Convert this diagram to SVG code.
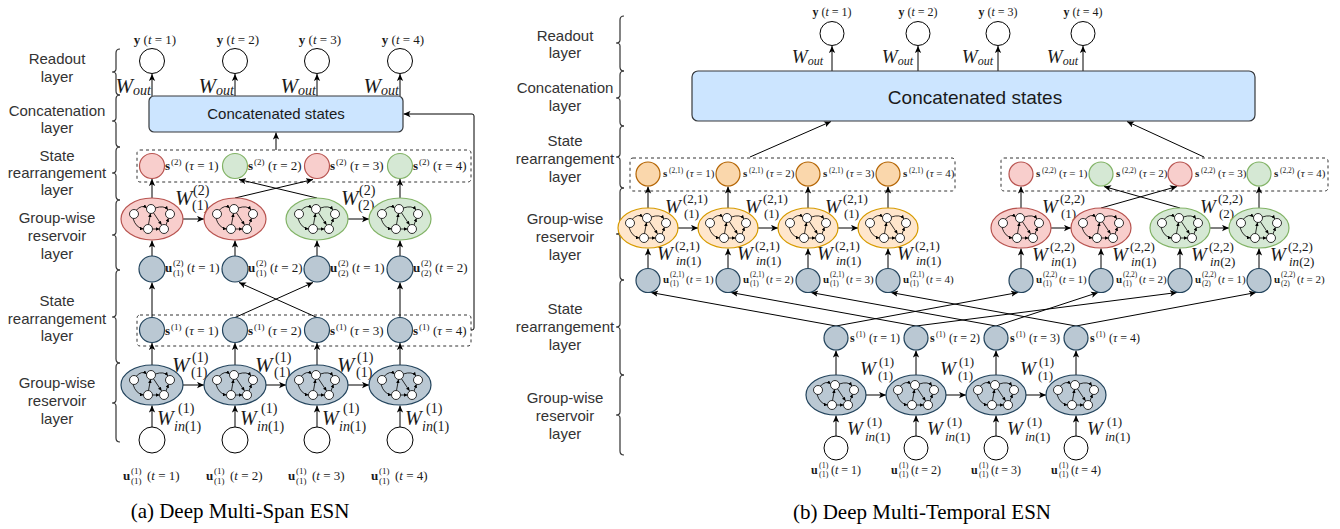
<svg xmlns="http://www.w3.org/2000/svg" width="1340" height="529" viewBox="0 0 1340 529">
<defs>
<style>
.lab{font-family:"Liberation Sans",Arial,sans-serif;font-size:15px;fill:#333;text-anchor:middle}
.m{font-family:"Liberation Serif","Times New Roman",serif;fill:#1a1a1a}
.b{font-weight:bold}
.i{font-style:italic}
.wn{fill:#fff;stroke:#000;stroke-width:1}
.bg{fill:#bac8d3;stroke:#23445d;stroke-width:1.2}
.rd{fill:#f8cecc;stroke:#b85450;stroke-width:1.2}
.gr{fill:#d5e8d4;stroke:#82b366;stroke-width:1.2}
.or{fill:#fad7ac;stroke:#b46504;stroke-width:1.2}
.oe{fill:#ffe6cc;stroke:#d79b00;stroke-width:1.2}
.ar{fill:none;stroke:#000;stroke-width:1;marker-end:url(#ah)}
.ds{fill:none;stroke:#333;stroke-width:1;stroke-dasharray:3 3}
.br{fill:none;stroke:#333;stroke-width:1.2}
.box{fill:#cce5ff;stroke:#36393d;stroke-width:1.2}
.cap{font-family:"Liberation Serif","Times New Roman",serif;font-size:21px;fill:#000;text-anchor:middle}
</style>
<marker id="ah" viewBox="0 0 10 10" refX="10" refY="5" markerWidth="7" markerHeight="7" orient="auto" markerUnits="userSpaceOnUse"><path d="M0,0.5 L10,5 L0,9.5 L2.5,5 Z" fill="#000"/></marker>
<marker id="sa" viewBox="0 0 10 10" refX="10" refY="5" markerWidth="3.6" markerHeight="3.6" orient="auto" markerUnits="userSpaceOnUse"><path d="M0,0 L10,5 L0,10 Z" fill="#000"/></marker>
<g id="net">
<g fill="none" stroke="#000" stroke-width="0.8" marker-end="url(#sa)">
<path d="M-16,-8.5 Q-10,-15 -5.4,-11"/>
<path d="M3.3,-11 Q12,-14 16,-9.2"/>
<path d="M-19,-0.5 Q-16,9 -8.5,10"/>
<path d="M0.5,10 L7.5,10"/>
<path d="M-3.5,5.5 L-1.5,-5.5"/>
<path d="M14,6 L16.5,-0.8"/>
<path d="M1.5,-6.2 L9.5,5.8"/>
</g>
<g fill="#fff" stroke="#000" stroke-width="0.8">
<circle cx="-18" cy="-5" r="4.5"/><circle cx="-1" cy="-10" r="4.5"/><circle cx="18" cy="-5" r="4.5"/><circle cx="-4" cy="10" r="4.5"/><circle cx="12" cy="10" r="4.5"/>
</g>
</g>
</defs>
<rect width="1340" height="529" fill="#fff"/>

<g id="braces">
<path class="br" d="M120,49 Q116,49 116,53 L116,69 Q116,72 112,72 Q116,72 116,75 L116,91 Q116,95 120,95"/>
<path class="br" d="M120,95 Q116,95 116,99 L116,118 Q116,121 112,121 Q116,121 116,124 L116,143 Q116,147 120,147"/>
<path class="br" d="M120,147 Q116,147 116,151 L116,170 Q116,173 112,173 Q116,173 116,176 L116,196 Q116,200 120,200"/>
<path class="br" d="M120,200 Q116,200 116,204 L116,232 Q116,235 112,235 Q116,235 116,238 L116,266 Q116,270 120,270"/>
<path class="br" d="M120,270 Q116,270 116,274 L116,314 Q116,317 112,317 Q116,317 116,320 L116,359 Q116,363 120,363"/>
<path class="br" d="M120,363 Q116,363 116,367 L116,400 Q116,403 112,403 Q116,403 116,406 L116,438 Q116,442 120,442"/>
<path class="br" d="M624,16 Q620,16 620,20 L620,40 Q620,43 616,43 Q620,43 620,46 L620,67 Q620,71 624,71"/>
<path class="br" d="M624,71 Q620,71 620,75 L620,95 Q620,98 616,98 Q620,98 620,101 L620,122 Q620,126 624,126"/>
<path class="br" d="M624,126 Q620,126 620,130 L620,154 Q620,157 616,157 Q620,157 620,160 L620,184 Q620,188 624,188"/>
<path class="br" d="M624,188 Q620,188 620,192 L620,231 Q620,234 616,234 Q620,234 620,237 L620,276 Q620,280 624,280"/>
<path class="br" d="M624,280 Q620,280 620,284 L620,324 Q620,327 616,327 Q620,327 620,330 L620,371 Q620,375 624,375"/>
<path class="br" d="M624,375 Q620,375 620,379 L620,412 Q620,415 616,415 Q620,415 620,418 L620,451 Q620,455 624,455"/>
</g>
<g id="layer-labels">
<text class="lab" x="57" y="64">Readout</text><text class="lab" x="57" y="81.5">layer</text>
<text class="lab" x="57" y="116">Concatenation</text><text class="lab" x="57" y="133">layer</text>
<text class="lab" x="57" y="161">State</text><text class="lab" x="57" y="178">rearrangement</text><text class="lab" x="57" y="195">layer</text>
<text class="lab" x="57" y="223">Group-wise</text><text class="lab" x="57" y="241">reservoir</text><text class="lab" x="57" y="259">layer</text>
<text class="lab" x="57" y="306">State</text><text class="lab" x="57" y="324">rearrangement</text><text class="lab" x="57" y="341">layer</text>
<text class="lab" x="57" y="388">Group-wise</text><text class="lab" x="57" y="406">reservoir</text><text class="lab" x="57" y="424">layer</text>
<text class="lab" x="565" y="41">Readout</text><text class="lab" x="565" y="58">layer</text>
<text class="lab" x="565" y="93">Concatenation</text><text class="lab" x="565" y="111">layer</text>
<text class="lab" x="565" y="146">State</text><text class="lab" x="565" y="164">rearrangement</text><text class="lab" x="565" y="182">layer</text>
<text class="lab" x="565" y="224">Group-wise</text><text class="lab" x="565" y="242">reservoir</text><text class="lab" x="565" y="260">layer</text>
<text class="lab" x="565" y="314">State</text><text class="lab" x="565" y="332">rearrangement</text><text class="lab" x="565" y="350">layer</text>
<text class="lab" x="565" y="403">Group-wise</text><text class="lab" x="565" y="421">reservoir</text><text class="lab" x="565" y="439">layer</text>
</g>

<g id="groups">
<rect class="ds" x="137" y="150" width="334" height="32" rx="3"/>
<rect class="ds" x="137" y="315" width="334" height="31" rx="3"/>
<rect class="ds" x="630" y="158" width="325" height="33" rx="3"/>
<rect class="ds" x="1001" y="158" width="327" height="33" rx="3"/>
</g>

<g id="connectors">
<path class="ar" d="M152,96 V74"/><path class="ar" d="M235,96 V74"/><path class="ar" d="M317,96 V74"/><path class="ar" d="M400,96 V74"/>
<path class="ar" d="M276,150 V132.5"/>
<path class="ar" d="M471,330 L472,330 Q474,330 474,328 L474,116 Q474,114 472,114 L403.5,114"/>
<path class="ar" d="M152,198 V179"/><path class="ar" d="M235,198 L313,179.5"/><path class="ar" d="M317,198 L239,179.5"/><path class="ar" d="M400,198 V179"/>
<path class="ar" d="M183,219 H204"/><path class="ar" d="M348,219 H369"/>
<path class="ar" d="M152,256 V240.5"/><path class="ar" d="M235,256 V240.5"/><path class="ar" d="M317,256 V240.5"/><path class="ar" d="M400,256 V240.5"/>
<path class="ar" d="M152,317.5 V282.5"/><path class="ar" d="M235,317.5 L313,282.5"/><path class="ar" d="M317,317.5 L239,282.5"/><path class="ar" d="M400,317.5 V282.5"/>
<path class="ar" d="M152,365 V343"/><path class="ar" d="M235,365 V343"/><path class="ar" d="M317,365 V343"/><path class="ar" d="M400,365 V343"/>
<path class="ar" d="M183,385 H204"/><path class="ar" d="M266,385 H286"/><path class="ar" d="M348,385 H369"/>
<path class="ar" d="M152,427 V405.5"/><path class="ar" d="M235,427 V405.5"/><path class="ar" d="M317,427 V405.5"/><path class="ar" d="M400,427 V405.5"/>
<path class="ar" d="M832,71 V46"/><path class="ar" d="M918,71 V46"/><path class="ar" d="M998,71 V46"/><path class="ar" d="M1083,71 V46"/>
<path class="ar" d="M750,157 L831,121.5"/><path class="ar" d="M1204,157 L1127,121.5"/>
<path class="ar" d="M648,208 V186.5"/><path class="ar" d="M728,208 V186.5"/><path class="ar" d="M808,208 V186.5"/><path class="ar" d="M888,208 V186.5"/>
<path class="ar" d="M1021,208 V186.5"/><path class="ar" d="M1101,208 L1177,186.5"/><path class="ar" d="M1180,208 L1104,186.5"/><path class="ar" d="M1259,208 V186.5"/>
<path class="ar" d="M678,228 H698"/><path class="ar" d="M758,228 H778"/><path class="ar" d="M838,228 H858"/>
<path class="ar" d="M1051,228 H1071"/><path class="ar" d="M1210,228 H1229"/>
<path class="ar" d="M648,268.5 V248.5"/><path class="ar" d="M728,268.5 V248.5"/><path class="ar" d="M808,268.5 V248.5"/><path class="ar" d="M888,268.5 V248.5"/>
<path class="ar" d="M1021,268.5 V248.5"/><path class="ar" d="M1101,268.5 V248.5"/><path class="ar" d="M1180,268.5 V248.5"/><path class="ar" d="M1259,268.5 V248.5"/>
<path class="ar" d="M836,326 L651,292.5"/><path class="ar" d="M916,326 L731,292.5"/><path class="ar" d="M996,326 L811,292.5"/><path class="ar" d="M1076,326 L891,292.5"/>
<path class="ar" d="M836,326 L1018,292.5"/><path class="ar" d="M996,326 L1098,292.5"/><path class="ar" d="M916,326 L1177,292.5"/><path class="ar" d="M1076,326 L1256,292.5"/>
<path class="ar" d="M836,375 V350.5"/><path class="ar" d="M916,375 V350.5"/><path class="ar" d="M996,375 V350.5"/><path class="ar" d="M1076,375 V350.5"/>
<path class="ar" d="M866,395 H886"/><path class="ar" d="M946,395 H966"/><path class="ar" d="M1026,395 H1046"/>
<path class="ar" d="M836,436 V415.5"/><path class="ar" d="M916,436 V415.5"/><path class="ar" d="M996,436 V415.5"/><path class="ar" d="M1076,436 V415.5"/>
</g>

<g id="weights" class="m">
<text class="i" font-size="21" x="151" y="93" text-anchor="end">W<tspan font-size="14" dy="2">out</tspan></text>
<text class="i" font-size="21" x="234" y="93" text-anchor="end">W<tspan font-size="14" dy="2">out</tspan></text>
<text class="i" font-size="21" x="316" y="93" text-anchor="end">W<tspan font-size="14" dy="2">out</tspan></text>
<text class="i" font-size="21" x="399" y="93" text-anchor="end">W<tspan font-size="14" dy="2">out</tspan></text>
<text font-size="14"><tspan class="i" font-size="21" x="175" y="205">W</tspan><tspan x="193" y="195">(2)</tspan><tspan x="192" y="210">(1)</tspan></text>
<text font-size="14"><tspan class="i" font-size="21" x="341" y="205">W</tspan><tspan x="359" y="195">(2)</tspan><tspan x="358" y="210">(2)</tspan></text>
<text font-size="14"><tspan class="i" font-size="21" x="172" y="372">W</tspan><tspan x="192" y="362">(1)</tspan><tspan x="191" y="377">(1)</tspan></text>
<text font-size="14"><tspan class="i" font-size="21" x="255" y="372">W</tspan><tspan x="275" y="362">(1)</tspan><tspan x="274" y="377">(1)</tspan></text>
<text font-size="14"><tspan class="i" font-size="21" x="337" y="372">W</tspan><tspan x="357" y="362">(1)</tspan><tspan x="356" y="377">(1)</tspan></text>
<text font-size="14"><tspan class="i" font-size="20" x="157" y="425">W</tspan><tspan x="178" y="413">(1)</tspan><tspan x="174" y="431"><tspan class="i">in</tspan>(1)</tspan></text>
<text font-size="14"><tspan class="i" font-size="20" x="240" y="425">W</tspan><tspan x="261" y="413">(1)</tspan><tspan x="257" y="431"><tspan class="i">in</tspan>(1)</tspan></text>
<text font-size="14"><tspan class="i" font-size="20" x="322" y="425">W</tspan><tspan x="343" y="413">(1)</tspan><tspan x="339" y="431"><tspan class="i">in</tspan>(1)</tspan></text>
<text font-size="14"><tspan class="i" font-size="20" x="405" y="425">W</tspan><tspan x="426" y="413">(1)</tspan><tspan x="422" y="431"><tspan class="i">in</tspan>(1)</tspan></text>

<text class="i" font-size="19" x="823" y="63" text-anchor="end">W<tspan font-size="12" dy="1.5">out</tspan></text>
<text class="i" font-size="19" x="913" y="63" text-anchor="end">W<tspan font-size="12" dy="1.5">out</tspan></text>
<text class="i" font-size="19" x="993" y="63" text-anchor="end">W<tspan font-size="12" dy="1.5">out</tspan></text>
<text class="i" font-size="19" x="1078" y="63" text-anchor="end">W<tspan font-size="12" dy="1.5">out</tspan></text>
<text font-size="13"><tspan class="i" font-size="19" x="665" y="213">W</tspan><tspan x="683" y="203">(2,1)</tspan><tspan x="684" y="218">(1)</tspan></text>
<text font-size="13"><tspan class="i" font-size="19" x="745" y="213">W</tspan><tspan x="763" y="203">(2,1)</tspan><tspan x="764" y="218">(1)</tspan></text>
<text font-size="13"><tspan class="i" font-size="19" x="825" y="213">W</tspan><tspan x="843" y="203">(2,1)</tspan><tspan x="844" y="218">(1)</tspan></text>
<text font-size="13"><tspan class="i" font-size="19" x="1042" y="213">W</tspan><tspan x="1060" y="203">(2,2)</tspan><tspan x="1061" y="218">(1)</tspan></text>
<text font-size="13"><tspan class="i" font-size="19" x="1200" y="213">W</tspan><tspan x="1218" y="203">(2,2)</tspan><tspan x="1219" y="218">(2)</tspan></text>
<text font-size="13"><tspan class="i" font-size="19" x="657" y="260">W</tspan><tspan x="675" y="250">(2,1)</tspan><tspan x="676" y="265"><tspan class="i">in</tspan>(1)</tspan></text>
<text font-size="13"><tspan class="i" font-size="19" x="737" y="260">W</tspan><tspan x="755" y="250">(2,1)</tspan><tspan x="756" y="265"><tspan class="i">in</tspan>(1)</tspan></text>
<text font-size="13"><tspan class="i" font-size="19" x="817" y="260">W</tspan><tspan x="835" y="250">(2,1)</tspan><tspan x="836" y="265"><tspan class="i">in</tspan>(1)</tspan></text>
<text font-size="13"><tspan class="i" font-size="19" x="897" y="260">W</tspan><tspan x="915" y="250">(2,1)</tspan><tspan x="916" y="265"><tspan class="i">in</tspan>(1)</tspan></text>
<text font-size="13"><tspan class="i" font-size="19" x="1032" y="261">W</tspan><tspan x="1050" y="251">(2,2)</tspan><tspan x="1051" y="266"><tspan class="i">in</tspan>(1)</tspan></text>
<text font-size="13"><tspan class="i" font-size="19" x="1112" y="261">W</tspan><tspan x="1130" y="251">(2,2)</tspan><tspan x="1131" y="266"><tspan class="i">in</tspan>(1)</tspan></text>
<text font-size="13"><tspan class="i" font-size="19" x="1191" y="261">W</tspan><tspan x="1209" y="251">(2,2)</tspan><tspan x="1210" y="266"><tspan class="i">in</tspan>(2)</tspan></text>
<text font-size="13"><tspan class="i" font-size="19" x="1270" y="261">W</tspan><tspan x="1288" y="251">(2,2)</tspan><tspan x="1289" y="266"><tspan class="i">in</tspan>(2)</tspan></text>
<text font-size="13"><tspan class="i" font-size="19" x="860" y="375">W</tspan><tspan x="879" y="366">(1)</tspan><tspan x="878" y="380">(1)</tspan></text>
<text font-size="13"><tspan class="i" font-size="19" x="940" y="375">W</tspan><tspan x="959" y="366">(1)</tspan><tspan x="958" y="380">(1)</tspan></text>
<text font-size="13"><tspan class="i" font-size="19" x="1020" y="375">W</tspan><tspan x="1039" y="366">(1)</tspan><tspan x="1038" y="380">(1)</tspan></text>
<text font-size="13"><tspan class="i" font-size="19" x="847" y="435">W</tspan><tspan x="867" y="426">(1)</tspan><tspan x="865" y="441"><tspan class="i">in</tspan>(1)</tspan></text>
<text font-size="13"><tspan class="i" font-size="19" x="927" y="435">W</tspan><tspan x="947" y="426">(1)</tspan><tspan x="945" y="441"><tspan class="i">in</tspan>(1)</tspan></text>
<text font-size="13"><tspan class="i" font-size="19" x="1007" y="435">W</tspan><tspan x="1027" y="426">(1)</tspan><tspan x="1025" y="441"><tspan class="i">in</tspan>(1)</tspan></text>
<text font-size="13"><tspan class="i" font-size="19" x="1087" y="435">W</tspan><tspan x="1107" y="426">(1)</tspan><tspan x="1105" y="441"><tspan class="i">in</tspan>(1)</tspan></text>
</g>

<g id="a-y1"><circle class="wn" cx="152" cy="61" r="12.5"/><text class="m" x="155" y="44" font-size="13" text-anchor="middle"><tspan class="b">y</tspan> (<tspan class="i">t</tspan> = 1)</text></g>
<g id="a-y2"><circle class="wn" cx="235" cy="61" r="12.5"/><text class="m" x="238" y="44" font-size="13" text-anchor="middle"><tspan class="b">y</tspan> (<tspan class="i">t</tspan> = 2)</text></g>
<g id="a-y3"><circle class="wn" cx="317" cy="61" r="12.5"/><text class="m" x="320" y="44" font-size="13" text-anchor="middle"><tspan class="b">y</tspan> (<tspan class="i">t</tspan> = 3)</text></g>
<g id="a-y4"><circle class="wn" cx="400" cy="61" r="12.5"/><text class="m" x="403" y="44" font-size="13" text-anchor="middle"><tspan class="b">y</tspan> (<tspan class="i">t</tspan> = 4)</text></g>
<g id="a-concat"><rect class="box" x="149" y="96" width="254" height="36" rx="5"/><text x="276" y="119" font-family="Liberation Sans, Arial, sans-serif" font-size="15" fill="#1a1a1a" text-anchor="middle">Concatenated states</text></g>

<g id="a-s2-1"><circle class="rd" cx="152" cy="166" r="12.5"/><text class="m" font-size="13"><tspan class="b" x="165" y="170">s</tspan><tspan font-size="9" x="171" y="165">(2)</tspan><tspan x="185" y="170">(<tspan class="i">τ</tspan> = 1)</tspan></text></g>
<g id="a-s2-2"><circle class="gr" cx="235" cy="166" r="12.5"/><text class="m" font-size="13"><tspan class="b" x="248" y="170">s</tspan><tspan font-size="9" x="254" y="165">(2)</tspan><tspan x="268" y="170">(<tspan class="i">τ</tspan> = 2)</tspan></text></g>
<g id="a-s2-3"><circle class="rd" cx="317" cy="166" r="12.5"/><text class="m" font-size="13"><tspan class="b" x="330" y="170">s</tspan><tspan font-size="9" x="336" y="165">(2)</tspan><tspan x="350" y="170">(<tspan class="i">τ</tspan> = 3)</tspan></text></g>
<g id="a-s2-4"><circle class="gr" cx="400" cy="166" r="12.5"/><text class="m" font-size="13"><tspan class="b" x="413" y="170">s</tspan><tspan font-size="9" x="419" y="165">(2)</tspan><tspan x="433" y="170">(<tspan class="i">τ</tspan> = 4)</tspan></text></g>

<g id="a-r2-1"><ellipse class="rd" cx="152" cy="219" rx="31" ry="21"/><use href="#net" x="152" y="219"/></g>
<g id="a-r2-2"><ellipse class="rd" cx="235" cy="219" rx="31" ry="21"/><use href="#net" x="235" y="219"/></g>
<g id="a-r2-3"><ellipse class="gr" cx="317" cy="219" rx="31" ry="21"/><use href="#net" x="317" y="219"/></g>
<g id="a-r2-4"><ellipse class="gr" cx="400" cy="219" rx="31" ry="21"/><use href="#net" x="400" y="219"/></g>

<g id="a-u2-1"><circle class="bg" cx="152" cy="269" r="13"/><text class="m" font-size="13"><tspan class="b" x="165" y="272">u</tspan><tspan font-size="9" x="173" y="266">(2)</tspan><tspan font-size="9" x="173" y="276">(1)</tspan><tspan x="187" y="272">(<tspan class="i">t</tspan> = 1)</tspan></text></g>
<g id="a-u2-2"><circle class="bg" cx="235" cy="269" r="13"/><text class="m" font-size="13"><tspan class="b" x="248" y="272">u</tspan><tspan font-size="9" x="256" y="266">(2)</tspan><tspan font-size="9" x="256" y="276">(1)</tspan><tspan x="270" y="272">(<tspan class="i">t</tspan> = 2)</tspan></text></g>
<g id="a-u2-3"><circle class="bg" cx="317" cy="269" r="13"/><text class="m" font-size="13"><tspan class="b" x="330" y="272">u</tspan><tspan font-size="9" x="338" y="266">(2)</tspan><tspan font-size="9" x="338" y="276">(2)</tspan><tspan x="352" y="272">(<tspan class="i">t</tspan> = 1)</tspan></text></g>
<g id="a-u2-4"><circle class="bg" cx="400" cy="269" r="13"/><text class="m" font-size="13"><tspan class="b" x="413" y="272">u</tspan><tspan font-size="9" x="421" y="266">(2)</tspan><tspan font-size="9" x="421" y="276">(2)</tspan><tspan x="435" y="272">(<tspan class="i">t</tspan> = 2)</tspan></text></g>

<g id="a-s1-1"><circle class="bg" cx="152" cy="330" r="12.5"/><text class="m" font-size="13"><tspan class="b" x="165" y="335">s</tspan><tspan font-size="9" x="171" y="330">(1)</tspan><tspan x="185" y="335">(<tspan class="i">τ</tspan> = 1)</tspan></text></g>
<g id="a-s1-2"><circle class="bg" cx="235" cy="330" r="12.5"/><text class="m" font-size="13"><tspan class="b" x="248" y="335">s</tspan><tspan font-size="9" x="254" y="330">(1)</tspan><tspan x="268" y="335">(<tspan class="i">τ</tspan> = 2)</tspan></text></g>
<g id="a-s1-3"><circle class="bg" cx="317" cy="330" r="12.5"/><text class="m" font-size="13"><tspan class="b" x="330" y="335">s</tspan><tspan font-size="9" x="336" y="330">(1)</tspan><tspan x="350" y="335">(<tspan class="i">τ</tspan> = 3)</tspan></text></g>
<g id="a-s1-4"><circle class="bg" cx="400" cy="330" r="12.5"/><text class="m" font-size="13"><tspan class="b" x="413" y="335">s</tspan><tspan font-size="9" x="419" y="330">(1)</tspan><tspan x="433" y="335">(<tspan class="i">τ</tspan> = 4)</tspan></text></g>

<g id="a-r1-1"><ellipse class="bg" cx="152" cy="385" rx="31" ry="20"/><use href="#net" x="152" y="385"/></g>
<g id="a-r1-2"><ellipse class="bg" cx="235" cy="385" rx="31" ry="20"/><use href="#net" x="235" y="385"/></g>
<g id="a-r1-3"><ellipse class="bg" cx="317" cy="385" rx="31" ry="20"/><use href="#net" x="317" y="385"/></g>
<g id="a-r1-4"><ellipse class="bg" cx="400" cy="385" rx="31" ry="20"/><use href="#net" x="400" y="385"/></g>

<g id="a-in1"><circle class="wn" cx="152" cy="440" r="13"/><text class="m" font-size="13"><tspan class="b" x="123" y="480">u</tspan><tspan font-size="9" x="131" y="474">(1)</tspan><tspan font-size="9" x="131" y="484">(1)</tspan><tspan x="147" y="480">(<tspan class="i">t</tspan> = 1)</tspan></text></g>
<g id="a-in2"><circle class="wn" cx="235" cy="440" r="13"/><text class="m" font-size="13"><tspan class="b" x="206" y="480">u</tspan><tspan font-size="9" x="214" y="474">(1)</tspan><tspan font-size="9" x="214" y="484">(1)</tspan><tspan x="230" y="480">(<tspan class="i">t</tspan> = 2)</tspan></text></g>
<g id="a-in3"><circle class="wn" cx="317" cy="440" r="13"/><text class="m" font-size="13"><tspan class="b" x="288" y="480">u</tspan><tspan font-size="9" x="296" y="474">(1)</tspan><tspan font-size="9" x="296" y="484">(1)</tspan><tspan x="312" y="480">(<tspan class="i">t</tspan> = 3)</tspan></text></g>
<g id="a-in4"><circle class="wn" cx="400" cy="440" r="13"/><text class="m" font-size="13"><tspan class="b" x="371" y="480">u</tspan><tspan font-size="9" x="379" y="474">(1)</tspan><tspan font-size="9" x="379" y="484">(1)</tspan><tspan x="395" y="480">(<tspan class="i">t</tspan> = 4)</tspan></text></g>
<text class="cap" x="240" y="518">(a)  Deep Multi-Span ESN</text>

<g id="b-y1"><circle class="wn" cx="832" cy="33.5" r="12"/><text class="m" x="832" y="16" font-size="12" text-anchor="middle"><tspan class="b">y</tspan> (<tspan class="i">t</tspan> = 1)</text></g>
<g id="b-y2"><circle class="wn" cx="918" cy="33.5" r="12"/><text class="m" x="918" y="16" font-size="12" text-anchor="middle"><tspan class="b">y</tspan> (<tspan class="i">t</tspan> = 2)</text></g>
<g id="b-y3"><circle class="wn" cx="998" cy="33.5" r="12"/><text class="m" x="998" y="16" font-size="12" text-anchor="middle"><tspan class="b">y</tspan> (<tspan class="i">t</tspan> = 3)</text></g>
<g id="b-y4"><circle class="wn" cx="1083" cy="33.5" r="12"/><text class="m" x="1083" y="16" font-size="12" text-anchor="middle"><tspan class="b">y</tspan> (<tspan class="i">t</tspan> = 4)</text></g>
<g id="b-concat"><rect class="box" x="692" y="71" width="563" height="50" rx="6"/><text x="975" y="104" font-family="Liberation Sans, Arial, sans-serif" font-size="19" fill="#1a1a1a" text-anchor="middle">Concatenated states</text></g>

<g id="b-s21-1"><circle class="or" cx="648" cy="174" r="12"/><text class="m" font-size="11"><tspan class="b" x="663" y="177">s</tspan><tspan font-size="7.5" x="669" y="173">(2,1)</tspan><tspan x="686" y="177">(<tspan class="i">τ</tspan> = 1)</tspan></text></g>
<g id="b-s21-2"><circle class="or" cx="728" cy="174" r="12"/><text class="m" font-size="11"><tspan class="b" x="743" y="177">s</tspan><tspan font-size="7.5" x="749" y="173">(2,1)</tspan><tspan x="766" y="177">(<tspan class="i">τ</tspan> = 2)</tspan></text></g>
<g id="b-s21-3"><circle class="or" cx="808" cy="174" r="12"/><text class="m" font-size="11"><tspan class="b" x="823" y="177">s</tspan><tspan font-size="7.5" x="829" y="173">(2,1)</tspan><tspan x="846" y="177">(<tspan class="i">τ</tspan> = 3)</tspan></text></g>
<g id="b-s21-4"><circle class="or" cx="888" cy="174" r="12"/><text class="m" font-size="11"><tspan class="b" x="903" y="177">s</tspan><tspan font-size="7.5" x="909" y="173">(2,1)</tspan><tspan x="926" y="177">(<tspan class="i">τ</tspan> = 4)</tspan></text></g>
<g id="b-s22-1"><circle class="rd" cx="1021" cy="174" r="12"/><text class="m" font-size="11"><tspan class="b" x="1036" y="177">s</tspan><tspan font-size="7.5" x="1042" y="173">(2,2)</tspan><tspan x="1059" y="177">(<tspan class="i">τ</tspan> = 1)</tspan></text></g>
<g id="b-s22-2"><circle class="gr" cx="1101" cy="174" r="12"/><text class="m" font-size="11"><tspan class="b" x="1116" y="177">s</tspan><tspan font-size="7.5" x="1122" y="173">(2,2)</tspan><tspan x="1139" y="177">(<tspan class="i">τ</tspan> = 2)</tspan></text></g>
<g id="b-s22-3"><circle class="rd" cx="1180" cy="174" r="12"/><text class="m" font-size="11"><tspan class="b" x="1195" y="177">s</tspan><tspan font-size="7.5" x="1201" y="173">(2,2)</tspan><tspan x="1218" y="177">(<tspan class="i">τ</tspan> = 3)</tspan></text></g>
<g id="b-s22-4"><circle class="gr" cx="1259" cy="174" r="12"/><text class="m" font-size="11"><tspan class="b" x="1274" y="177">s</tspan><tspan font-size="7.5" x="1280" y="173">(2,2)</tspan><tspan x="1297" y="177">(<tspan class="i">τ</tspan> = 4)</tspan></text></g>

<g id="b-r21-1"><ellipse class="oe" cx="648" cy="228" rx="30" ry="20"/><use href="#net" x="648" y="228"/></g>
<g id="b-r21-2"><ellipse class="oe" cx="728" cy="228" rx="30" ry="20"/><use href="#net" x="728" y="228"/></g>
<g id="b-r21-3"><ellipse class="oe" cx="808" cy="228" rx="30" ry="20"/><use href="#net" x="808" y="228"/></g>
<g id="b-r21-4"><ellipse class="oe" cx="888" cy="228" rx="30" ry="20"/><use href="#net" x="888" y="228"/></g>
<g id="b-r22-1"><ellipse class="rd" cx="1021" cy="228" rx="30" ry="20"/><use href="#net" x="1021" y="228"/></g>
<g id="b-r22-2"><ellipse class="rd" cx="1101" cy="228" rx="30" ry="20"/><use href="#net" x="1101" y="228"/></g>
<g id="b-r22-3"><ellipse class="gr" cx="1180" cy="228" rx="30" ry="20"/><use href="#net" x="1180" y="228"/></g>
<g id="b-r22-4"><ellipse class="gr" cx="1259" cy="228" rx="30" ry="20"/><use href="#net" x="1259" y="228"/></g>

<g id="b-u21-1"><circle class="bg" cx="648" cy="280.5" r="12"/><text class="m" font-size="11"><tspan class="b" x="663" y="283">u</tspan><tspan font-size="7.5" x="670" y="277">(2,1)</tspan><tspan font-size="7.5" x="670" y="286">(1)</tspan><tspan x="686" y="283">(<tspan class="i">t</tspan> = 1)</tspan></text></g>
<g id="b-u21-2"><circle class="bg" cx="728" cy="280.5" r="12"/><text class="m" font-size="11"><tspan class="b" x="743" y="283">u</tspan><tspan font-size="7.5" x="750" y="277">(2,1)</tspan><tspan font-size="7.5" x="750" y="286">(1)</tspan><tspan x="766" y="283">(<tspan class="i">t</tspan> = 2)</tspan></text></g>
<g id="b-u21-3"><circle class="bg" cx="808" cy="280.5" r="12"/><text class="m" font-size="11"><tspan class="b" x="823" y="283">u</tspan><tspan font-size="7.5" x="830" y="277">(2,1)</tspan><tspan font-size="7.5" x="830" y="286">(1)</tspan><tspan x="846" y="283">(<tspan class="i">t</tspan> = 3)</tspan></text></g>
<g id="b-u21-4"><circle class="bg" cx="888" cy="280.5" r="12"/><text class="m" font-size="11"><tspan class="b" x="903" y="283">u</tspan><tspan font-size="7.5" x="910" y="277">(2,1)</tspan><tspan font-size="7.5" x="910" y="286">(1)</tspan><tspan x="926" y="283">(<tspan class="i">t</tspan> = 4)</tspan></text></g>
<g id="b-u22-1"><circle class="bg" cx="1021" cy="280.5" r="12"/><text class="m" font-size="11"><tspan class="b" x="1036" y="283">u</tspan><tspan font-size="7.5" x="1043" y="277">(2,2)</tspan><tspan font-size="7.5" x="1043" y="286">(1)</tspan><tspan x="1059" y="283">(<tspan class="i">t</tspan> = 1)</tspan></text></g>
<g id="b-u22-2"><circle class="bg" cx="1101" cy="280.5" r="12"/><text class="m" font-size="11"><tspan class="b" x="1116" y="283">u</tspan><tspan font-size="7.5" x="1123" y="277">(2,2)</tspan><tspan font-size="7.5" x="1123" y="286">(1)</tspan><tspan x="1139" y="283">(<tspan class="i">t</tspan> = 2)</tspan></text></g>
<g id="b-u22-3"><circle class="bg" cx="1180" cy="280.5" r="12"/><text class="m" font-size="11"><tspan class="b" x="1195" y="283">u</tspan><tspan font-size="7.5" x="1202" y="277">(2,2)</tspan><tspan font-size="7.5" x="1202" y="286">(2)</tspan><tspan x="1218" y="283">(<tspan class="i">t</tspan> = 1)</tspan></text></g>
<g id="b-u22-4"><circle class="bg" cx="1259" cy="280.5" r="12"/><text class="m" font-size="11"><tspan class="b" x="1274" y="283">u</tspan><tspan font-size="7.5" x="1281" y="277">(2,2)</tspan><tspan font-size="7.5" x="1281" y="286">(2)</tspan><tspan x="1297" y="283">(<tspan class="i">t</tspan> = 2)</tspan></text></g>

<g id="b-s1-1"><circle class="bg" cx="836" cy="338" r="12"/><text class="m" font-size="12"><tspan class="b" x="850" y="342">s</tspan><tspan font-size="8" x="856" y="337">(1)</tspan><tspan x="869" y="342">(<tspan class="i">τ</tspan> = 1)</tspan></text></g>
<g id="b-s1-2"><circle class="bg" cx="916" cy="338" r="12"/><text class="m" font-size="12"><tspan class="b" x="930" y="342">s</tspan><tspan font-size="8" x="936" y="337">(1)</tspan><tspan x="949" y="342">(<tspan class="i">τ</tspan> = 2)</tspan></text></g>
<g id="b-s1-3"><circle class="bg" cx="996" cy="338" r="12"/><text class="m" font-size="12"><tspan class="b" x="1010" y="342">s</tspan><tspan font-size="8" x="1016" y="337">(1)</tspan><tspan x="1029" y="342">(<tspan class="i">τ</tspan> = 3)</tspan></text></g>
<g id="b-s1-4"><circle class="bg" cx="1076" cy="338" r="12"/><text class="m" font-size="12"><tspan class="b" x="1090" y="342">s</tspan><tspan font-size="8" x="1096" y="337">(1)</tspan><tspan x="1109" y="342">(<tspan class="i">τ</tspan> = 4)</tspan></text></g>

<g id="b-r1-1"><ellipse class="bg" cx="836" cy="395" rx="30" ry="20"/><use href="#net" x="836" y="395"/></g>
<g id="b-r1-2"><ellipse class="bg" cx="916" cy="395" rx="30" ry="20"/><use href="#net" x="916" y="395"/></g>
<g id="b-r1-3"><ellipse class="bg" cx="996" cy="395" rx="30" ry="20"/><use href="#net" x="996" y="395"/></g>
<g id="b-r1-4"><ellipse class="bg" cx="1076" cy="395" rx="30" ry="20"/><use href="#net" x="1076" y="395"/></g>

<g id="b-in1"><circle class="wn" cx="836" cy="448" r="12"/><text class="m" font-size="12"><tspan class="b" x="811" y="474">u</tspan><tspan font-size="8" x="819" y="468">(1)</tspan><tspan font-size="8" x="819" y="477">(1)</tspan><tspan x="831" y="474">(<tspan class="i">t</tspan> = 1)</tspan></text></g>
<g id="b-in2"><circle class="wn" cx="916" cy="448" r="12"/><text class="m" font-size="12"><tspan class="b" x="891" y="474">u</tspan><tspan font-size="8" x="899" y="468">(1)</tspan><tspan font-size="8" x="899" y="477">(1)</tspan><tspan x="911" y="474">(<tspan class="i">t</tspan> = 2)</tspan></text></g>
<g id="b-in3"><circle class="wn" cx="996" cy="448" r="12"/><text class="m" font-size="12"><tspan class="b" x="971" y="474">u</tspan><tspan font-size="8" x="979" y="468">(1)</tspan><tspan font-size="8" x="979" y="477">(1)</tspan><tspan x="991" y="474">(<tspan class="i">t</tspan> = 3)</tspan></text></g>
<g id="b-in4"><circle class="wn" cx="1076" cy="448" r="12"/><text class="m" font-size="12"><tspan class="b" x="1051" y="474">u</tspan><tspan font-size="8" x="1059" y="468">(1)</tspan><tspan font-size="8" x="1059" y="477">(1)</tspan><tspan x="1071" y="474">(<tspan class="i">t</tspan> = 4)</tspan></text></g>
<text class="cap" x="922" y="519">(b)  Deep Multi-Temporal ESN</text>
</svg>
